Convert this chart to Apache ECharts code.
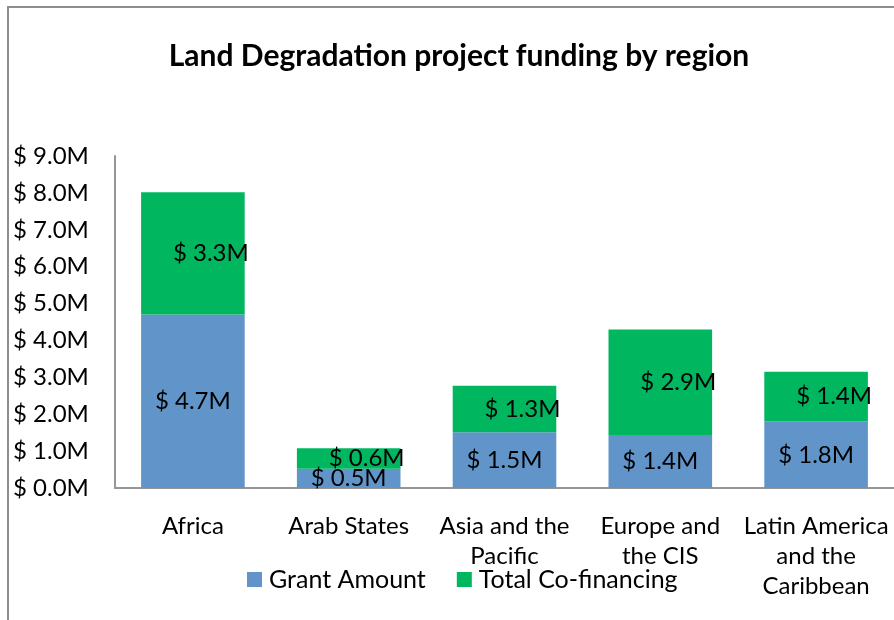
<!DOCTYPE html>
<html>
<head>
<meta charset="utf-8">
<script src="https://cdn.jsdelivr.net/npm/echarts@6/dist/echarts.min.js"></script>
<style>
  html, body { margin: 0; padding: 0; background: #fff; }
  #chart { width: 894px; height: 620px; }
</style>
</head>
<body>
<div id="chart"></div>
<script>
var regions = ["Africa", "Arab States", "Asia and the\nPacific", "Europe and\nthe CIS", "Latin America\nand the\nCaribbean"];
var grantAmount = [4.70, 0.52, 1.51, 1.44, 1.80];
var coFinancing = [3.32, 0.56, 1.26, 2.86, 1.35];
var yTicks = [0, 1, 2, 3, 4, 5, 6, 7, 8, 9];

var chartDom = document.getElementById("chart");
var chart = echarts.init(chartDom, null, {renderer: "canvas"});

function money(v) {
  return "$ " + Number(v).toFixed(1) + "M";
}

var font = "Lato, 'Open Sans', sans-serif";

chart.setOption({
  animation: false,
  textStyle: {fontFamily: font},
  title: {
    text: "Land Degradation project funding by region",
    left: 454,
    textAlign: "center",
    top: 36,
    textStyle: {fontSize: 30, fontWeight: "bold", color: "#000", fontFamily: font}
  },
  graphic: [{
    type: "rect",
    shape: {x: 8, y: 7, width: 1000, height: 700},
    style: {fill: null, stroke: "#8e8e8e", lineWidth: 2},
    silent: true
  }],
  legend: {
    top: 562,
    left: 242,
    itemWidth: 15,
    itemHeight: 15,
    itemGap: 31,
    icon: "rect",
    textStyle: {fontSize: 25, color: "#000", fontFamily: font, padding: [0, 0, 0, 2]},
    data: ["Grant Amount", "Total Co-financing"]
  },
  grid: {left: 115, right: -4, top: 156, bottom: 132, containLabel: false},
  xAxis: {
    type: "category",
    data: regions,
    axisLine: {lineStyle: {color: "#969696", width: 2}},
    axisTick: {show: false},
    axisLabel: {
      interval: 0,
      fontSize: 24,
      lineHeight: 30,
      color: "#000",
      margin: 23,
      fontFamily: font
    }
  },
  yAxis: {
    type: "value",
    min: 0,
    max: 9,
    interval: 1,
    splitLine: {show: false},
    axisLine: {show: true, lineStyle: {color: "#969696", width: 2}},
    axisTick: {show: false},
    axisLabel: {
      fontSize: 24,
      color: "#000",
      align: "left",
      margin: 102,
      fontFamily: font,
      formatter: function (v) { return yTicks.indexOf(v) >= 0 ? money(v) : ""; }
    }
  },
  series: [
    {
      name: "Grant Amount",
      type: "bar",
      stack: "total",
      barCategoryGap: "33.5%",
      data: grantAmount,
      itemStyle: {color: "#6195c9"},
      label: {
        show: true,
        position: "inside",
        fontSize: 24,
        color: "#000",
        fontFamily: font,
        formatter: function (p) { return money(p.value); }
      }
    },
    {
      name: "Total Co-financing",
      type: "bar",
      stack: "total",
      data: coFinancing,
      itemStyle: {color: "#00b760"},
      label: {
        show: true,
        position: "inside",
        offset: [18, 0],
        fontSize: 24,
        color: "#000",
        fontFamily: font,
        formatter: function (p) { return money(p.value); }
      }
    }
  ]
});

window.addEventListener("resize", function () {
  chart.resize();
});
</script>
</body>
</html>
